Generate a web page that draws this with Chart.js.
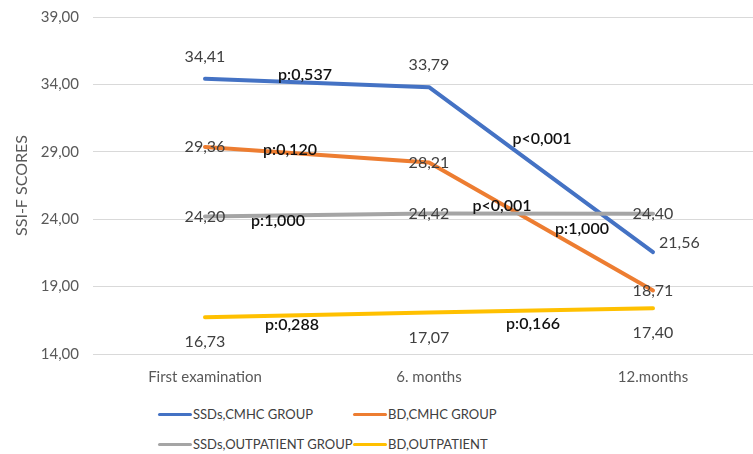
<!DOCTYPE html>
<html>
<head>
<meta charset="utf-8">
<script src="https://cdn.jsdelivr.net/npm/chart.js@4"></script>
<style>
  html, body { margin: 0; padding: 0; background: #fff; overflow: hidden; width: 753px; height: 454px; }
  #wrap { position: absolute; left: 0; top: 0; width: 765px; height: 395px; }
  #legend { position: absolute; left: 158px; top: 399px; font-family: Lato, "Liberation Sans", sans-serif; font-size: 13px; color: #404040; white-space: nowrap; }
  .row { display: flex; height: 30px; align-items: center; }
  .item { display: flex; align-items: center; }
  .item.c0 { width: 195px; }
  .swatch { width: 34px; height: 3px; border-radius: 2px; margin-right: 1px; }
</style>
</head>
<body>
<div id="wrap"><canvas id="chart"></canvas></div>
<div id="legend"></div>
<script>
// Time points of the follow-up
const categories = ['First examination', '6. months', '12.months'];

// Mean SSI-F scores per group
const ssdsCmhc = [34.41, 33.79, 21.56];
const bdCmhc = [29.36, 28.21, 18.71];
const ssdsOutpatient = [24.20, 24.42, 24.40];
const bdOutpatient = [16.73, 17.07, 17.40];

// p values between consecutive time points
const pSsdsCmhc = ['p:0,537', 'p<0,001'];
const pBdCmhc = ['p:0,120', 'p<0,001'];
const pSsdsOutpatient = ['p:1,000', 'p:1,000'];
const pBdOutpatient = ['p:0,288', 'p:0,166'];

const seriesNames = ['SSDs,CMHC GROUP', 'BD,CMHC GROUP', 'SSDs,OUTPATIENT GROUP', 'BD,OUTPATIENT'];

// Y axis range
const yMin = 14, yMax = 39, yStep = 5;

const FONT = 'Lato, "Liberation Sans", sans-serif';
const colors = ['#4472C4', '#ED7D31', '#A5A5A5', '#FFC000'];

const fmt = v => v.toFixed(2).replace('.', ',');

// Where each series prints its values relative to the points
const valuePlacement = [
  ['above', 'above', 'right'],
  ['center', 'center', 'center'],
  ['center', 'center', 'center'],
  ['below', 'below', 'below']
];
// Offsets of the p value labels from the segment midpoints
const pOffsets = [
  [[-12, -8], [1, -31]],
  [[-27, -5], [-39, -21]],
  [[-39, 6], [41, 15]],
  [[-25, 10], [-8, 13]]
];
const pValues = [pSsdsCmhc, pBdCmhc, pSsdsOutpatient, pBdOutpatient];

const labelPlugin = {
  id: 'labels',
  afterDatasetsDraw(chart) {
    const ctx = chart.ctx;
    ctx.save();
    chart.data.datasets.forEach((ds, di) => {
      const pts = chart.getDatasetMeta(di).data;
      // value labels
      ctx.font = '16px ' + FONT;
      ctx.fillStyle = '#404040';
      pts.forEach((pt, i) => {
        const place = valuePlacement[di][i];
        let x = pt.x, y = pt.y;
        ctx.textAlign = 'center';
        ctx.textBaseline = 'middle';
        if (place === 'above') y -= 22;
        else if (place === 'below') y += 25;
        else if (place === 'right') { ctx.textAlign = 'left'; x += 6; y -= 9; }
        ctx.fillText(fmt(ds.data[i]), x, y);
      });
      // p value labels
      ctx.font = '600 16px ' + FONT;
      ctx.fillStyle = '#111';
      ctx.textAlign = 'center';
      ctx.textBaseline = 'middle';
      for (let s = 0; s < pts.length - 1; s++) {
        const mx = (pts[s].x + pts[s + 1].x) / 2;
        const my = (pts[s].y + pts[s + 1].y) / 2;
        const off = pOffsets[di][s];
        ctx.fillText(pValues[di][s], mx + off[0], my + off[1]);
      }
    });
    ctx.restore();
  }
};

const seriesData = [ssdsCmhc, bdCmhc, ssdsOutpatient, bdOutpatient];

new Chart(document.getElementById('chart'), {
  type: 'line',
  data: {
    labels: categories,
    datasets: seriesData.map((d, i) => ({
      label: seriesNames[i],
      data: d,
      borderColor: colors[i],
      backgroundColor: colors[i],
      borderWidth: 4,
      borderCapStyle: 'round',
      borderJoinStyle: 'round',
      pointRadius: 0,
      tension: 0,
      order: 3 - i
    }))
  },
  options: {
    responsive: true,
    maintainAspectRatio: false,
    animation: false,
    layout: { padding: { top: 17, right: 0, bottom: 0, left: 0 } },
    plugins: { legend: { display: false }, tooltip: { enabled: false } },
    scales: {
      x: {
        offset: true,
        grid: { display: false, drawTicks: false },
        border: { display: false },
        ticks: { color: '#595959', font: { family: FONT, size: 15 }, padding: 14, maxRotation: 0 },
        afterFit(scale) { scale.height = 41; }
      },
      y: {
        min: yMin,
        max: yMax,
        grid: { color: '#D9D9D9', lineWidth: 1, drawTicks: false },
        border: { display: false },
        ticks: {
          stepSize: yStep,
          color: '#595959',
          font: { family: FONT, size: 15 },
          padding: 14,
          callback: v => fmt(v)
        },
        title: {
          display: true,
          text: 'SSI-F SCORES',
          color: '#595959',
          font: { family: FONT, size: 16 },
          padding: { top: 12, bottom: 0 }
        },
        afterFit(scale) {
          scale.width = 93;
          scale.paddingTop = 0;
          scale.paddingBottom = 0;
        }
      }
    }
  },
  plugins: [labelPlugin]
});

// Legend in two rows, two aligned columns
const legend = document.getElementById('legend');
for (let r = 0; r < 2; r++) {
  const row = document.createElement('div');
  row.className = 'row';
  for (let c = 0; c < 2; c++) {
    const i = r * 2 + c;
    const item = document.createElement('div');
    item.className = 'item c' + c;
    const sw = document.createElement('span');
    sw.className = 'swatch';
    sw.style.background = colors[i];
    const tx = document.createElement('span');
    tx.textContent = seriesNames[i];
    item.appendChild(sw);
    item.appendChild(tx);
    row.appendChild(item);
  }
  legend.appendChild(row);
}
</script>
</body>
</html>
